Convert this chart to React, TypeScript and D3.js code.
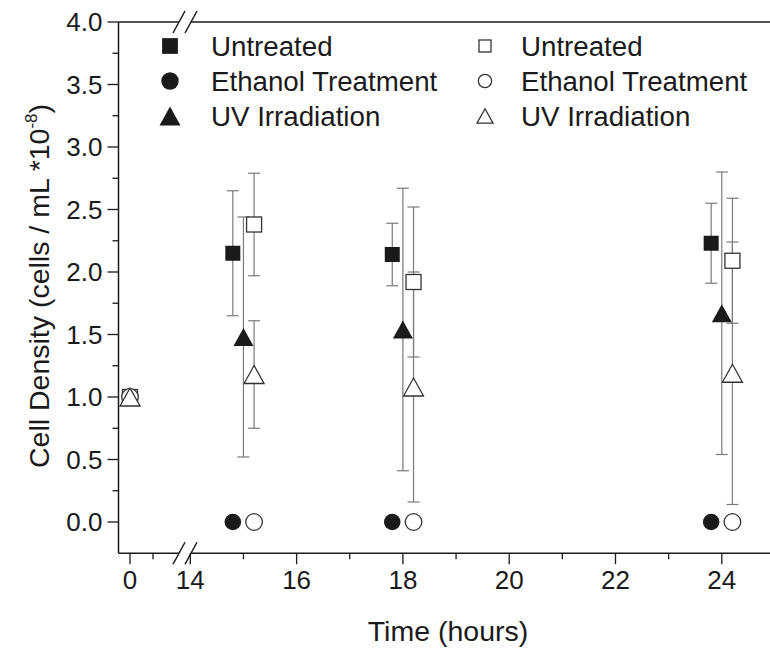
import React from 'react';
import * as d3 from 'd3';

// hours; filled markers offset left, open markers offset right
const untreatedFilledX = [0, 14.8, 17.8, 23.8];
const untreatedFilled = [1.0, 2.15, 2.14, 2.23];
const untreatedFilledErr = [0, 0.5, 0.25, 0.32];

const ethanolFilledX = [0, 14.8, 17.8, 23.8];
const ethanolFilled = [1.0, 0, 0, 0];

const uvFilledX = [0, 15, 18, 24];
const uvFilled = [1.0, 1.48, 1.54, 1.67];
const uvFilledErr = [0, 0.96, 1.13, 1.13];

const untreatedOpenX = [0, 15.2, 18.2, 24.2];
const untreatedOpen = [1.0, 2.38, 1.92, 2.09];
const untreatedOpenErr = [0, 0.41, 0.6, 0.5];

const ethanolOpenX = [0, 15.2, 18.2, 24.2];
const ethanolOpen = [1.0, 0, 0, 0];

const uvOpenX = [0, 15.2, 18.2, 24.2];
const uvOpen = [1.0, 1.18, 1.08, 1.19];
const uvOpenErr = [0, 0.43, 0.92, 1.05];

const yTicks = [0, 0.5, 1, 1.5, 2, 2.5, 3, 3.5, 4];
const yMinor = [0.25, 0.75, 1.25, 1.75, 2.25, 2.75, 3.25, 3.75];
const xLeftTicks = [0];
const xLeftMinor = [0.5];
const xRightTicks = [14, 16, 18, 20, 22, 24];
const xRightMinor = [15, 17, 19, 21, 23];

const legendLeft = ['Untreated', 'Ethanol Treatment', 'UV Irradiation'];
const legendRight = ['Untreated', 'Ethanol Treatment', 'UV Irradiation'];

const W = 770;
const H = 654;
const FONT = '"Liberation Sans", Arial, sans-serif';
const INK = '#1a1a1a';
const ERR = '#7a7a7a';

const y = d3.scaleLinear().domain([-0.25, 4]).range([553.25, 22]);
const xLeft = d3.scaleLinear().domain([-0.25, 1.05]).range([118.5, 178.3]);
const xRight = d3.scaleLinear().domain([14, 25]).range([190.3, 774.95]);
const x = (t: number) => (t < 5 ? xLeft(t) : xRight(t));

type Shape = 'square' | 'circle' | 'triangle';

function Marker({ cx, cy, shape, filled, s = 1 }: { cx: number; cy: number; shape: Shape; filled: boolean; s?: number }) {
  const fill = filled ? INK : '#fff';
  const stroke = filled ? INK : '#333';
  const sw = filled ? 0 : 1.3;
  if (shape === 'square') {
    const h = 7.5 * s;
    return <rect x={cx - h} y={cy - h} width={2 * h} height={2 * h} fill={fill} stroke={stroke} strokeWidth={sw} />;
  }
  if (shape === 'circle') {
    return <circle cx={cx} cy={cy} r={8.3 * s} fill={fill} stroke={stroke} strokeWidth={sw} />;
  }
  const hw = 10 * s;
  const hh = 9 * s;
  const pts = `${cx},${cy - hh} ${cx + hw},${cy + hh} ${cx - hw},${cy + hh}`;
  return <polygon points={pts} fill={fill} stroke={stroke} strokeWidth={sw} strokeLinejoin="miter" />;
}

function ErrorBars({ xs, vs, es }: { xs: number[]; vs: number[]; es: number[] }) {
  return (
    <g stroke={ERR} strokeWidth={1.2}>
      {xs.map((t, i) => {
        if (!es[i]) return null;
        const cx = x(t);
        const y1 = y(vs[i] + es[i]);
        const y2 = y(vs[i] - es[i]);
        return (
          <g key={i}>
            <line x1={cx} x2={cx} y1={y1} y2={y2} />
            <line x1={cx - 6} x2={cx + 6} y1={y1} y2={y1} />
            <line x1={cx - 6} x2={cx + 6} y1={y2} y2={y2} />
          </g>
        );
      })}
    </g>
  );
}

function Points({ xs, vs, shape, filled }: { xs: number[]; vs: number[]; shape: Shape; filled: boolean }) {
  return (
    <g>
      {xs.map((t, i) => (
        <Marker key={i} cx={x(t)} cy={y(vs[i])} shape={shape} filled={filled} />
      ))}
    </g>
  );
}

function Slash({ cx, cy }: { cx: number; cy: number }) {
  return <line x1={cx - 6} y1={cy + 11} x2={cx + 6} y2={cy - 11} stroke={INK} strokeWidth={1.5} />;
}

export default function App() {
  const top = y(4);
  const bottom = y(-0.25);
  const axisL = xLeft(-0.25);
  const breakA = 179;
  const breakB = 191;
  const shapes: Shape[] = ['square', 'circle', 'triangle'];
  const rowY = [46, 81, 116];

  return (
    <svg width={W} height={H} style={{ position: 'absolute', left: 0, top: 0, background: '#fff' }} fontFamily={FONT}>
      <rect width={W} height={H} fill="#fff" />

      {/* axes frame */}
      <g stroke={INK} strokeWidth={1.5} fill="none">
        <line x1={axisL} x2={axisL} y1={top} y2={bottom} />
        <line x1={axisL} x2={breakA} y1={bottom} y2={bottom} />
        <line x1={breakB} x2={W} y1={bottom} y2={bottom} />
        <line x1={axisL} x2={breakA} y1={top} y2={top} />
        <line x1={breakB} x2={W} y1={top} y2={top} />
      </g>

      {/* y ticks */}
      <g stroke={INK} strokeWidth={1.3}>
        {yTicks.map(v => <line key={v} x1={axisL - 11} x2={axisL} y1={y(v)} y2={y(v)} />)}
        {yMinor.map(v => <line key={v} x1={axisL - 6} x2={axisL} y1={y(v)} y2={y(v)} />)}
      </g>
      <g fill={INK} fontSize={26} textAnchor="end">
        {yTicks.map(v => (
          <text key={v} x={axisL - 16} y={y(v)} dy="0.36em">{d3.format('.1f')(v)}</text>
        ))}
      </g>

      {/* x ticks */}
      <g stroke={INK} strokeWidth={1.3}>
        {xLeftTicks.map(t => <line key={t} x1={xLeft(t)} x2={xLeft(t)} y1={bottom} y2={bottom + 11} />)}
        {xLeftMinor.map(t => <line key={t} x1={xLeft(t)} x2={xLeft(t)} y1={bottom} y2={bottom + 6} />)}
        {xRightTicks.map(t => <line key={t} x1={xRight(t)} x2={xRight(t)} y1={bottom} y2={bottom + 11} />)}
        {xRightMinor.map(t => <line key={t} x1={xRight(t)} x2={xRight(t)} y1={bottom} y2={bottom + 6} />)}
      </g>
      <g fill={INK} fontSize={26} textAnchor="middle">
        {xLeftTicks.map(t => <text key={t} x={xLeft(t)} y={bottom + 36}>{t}</text>)}
        {xRightTicks.map(t => <text key={t} x={xRight(t)} y={bottom + 36}>{t}</text>)}
      </g>

      {/* axis breaks */}
      <Slash cx={breakA} cy={top} />
      <Slash cx={breakB} cy={top} />
      <Slash cx={breakA} cy={bottom} />
      <Slash cx={breakB} cy={bottom} />

      {/* titles */}
      <text x={448} y={641} fontSize={28.5} fill={INK} textAnchor="middle">Time (hours)</text>
      <text transform={`translate(49, 286) rotate(-90)`} fontSize={28.5} fill={INK} textAnchor="middle">
        Cell Density (cells / mL *10<tspan dy={-12} fontSize={17}>-8</tspan><tspan dy={12}>)</tspan>
      </text>

      {/* error bars */}
      <ErrorBars xs={untreatedFilledX} vs={untreatedFilled} es={untreatedFilledErr} />
      <ErrorBars xs={uvFilledX} vs={uvFilled} es={uvFilledErr} />
      <ErrorBars xs={untreatedOpenX} vs={untreatedOpen} es={untreatedOpenErr} />
      <ErrorBars xs={uvOpenX} vs={uvOpen} es={uvOpenErr} />

      {/* markers */}
      <Points xs={untreatedFilledX} vs={untreatedFilled} shape="square" filled />
      <Points xs={ethanolFilledX} vs={ethanolFilled} shape="circle" filled />
      <Points xs={uvFilledX} vs={uvFilled} shape="triangle" filled />
      <Points xs={untreatedOpenX} vs={untreatedOpen} shape="square" filled={false} />
      <Points xs={ethanolOpenX} vs={ethanolOpen} shape="circle" filled={false} />
      <Points xs={uvOpenX} vs={uvOpen} shape="triangle" filled={false} />

      {/* legend */}
      <g fontSize={27.7} fill={INK}>
        {legendLeft.map((lbl, i) => (
          <g key={'l' + i}>
            <Marker cx={170} cy={rowY[i]} shape={shapes[i]} filled s={1.05} />
            <text x={211} y={rowY[i]} dy="0.36em">{lbl}</text>
          </g>
        ))}
        {legendRight.map((lbl, i) => (
          <g key={'r' + i}>
            <Marker cx={485} cy={rowY[i]} shape={shapes[i]} filled={false} s={0.8} />
            <text x={521} y={rowY[i]} dy="0.36em">{lbl}</text>
          </g>
        ))}
      </g>
    </svg>
  );
}
